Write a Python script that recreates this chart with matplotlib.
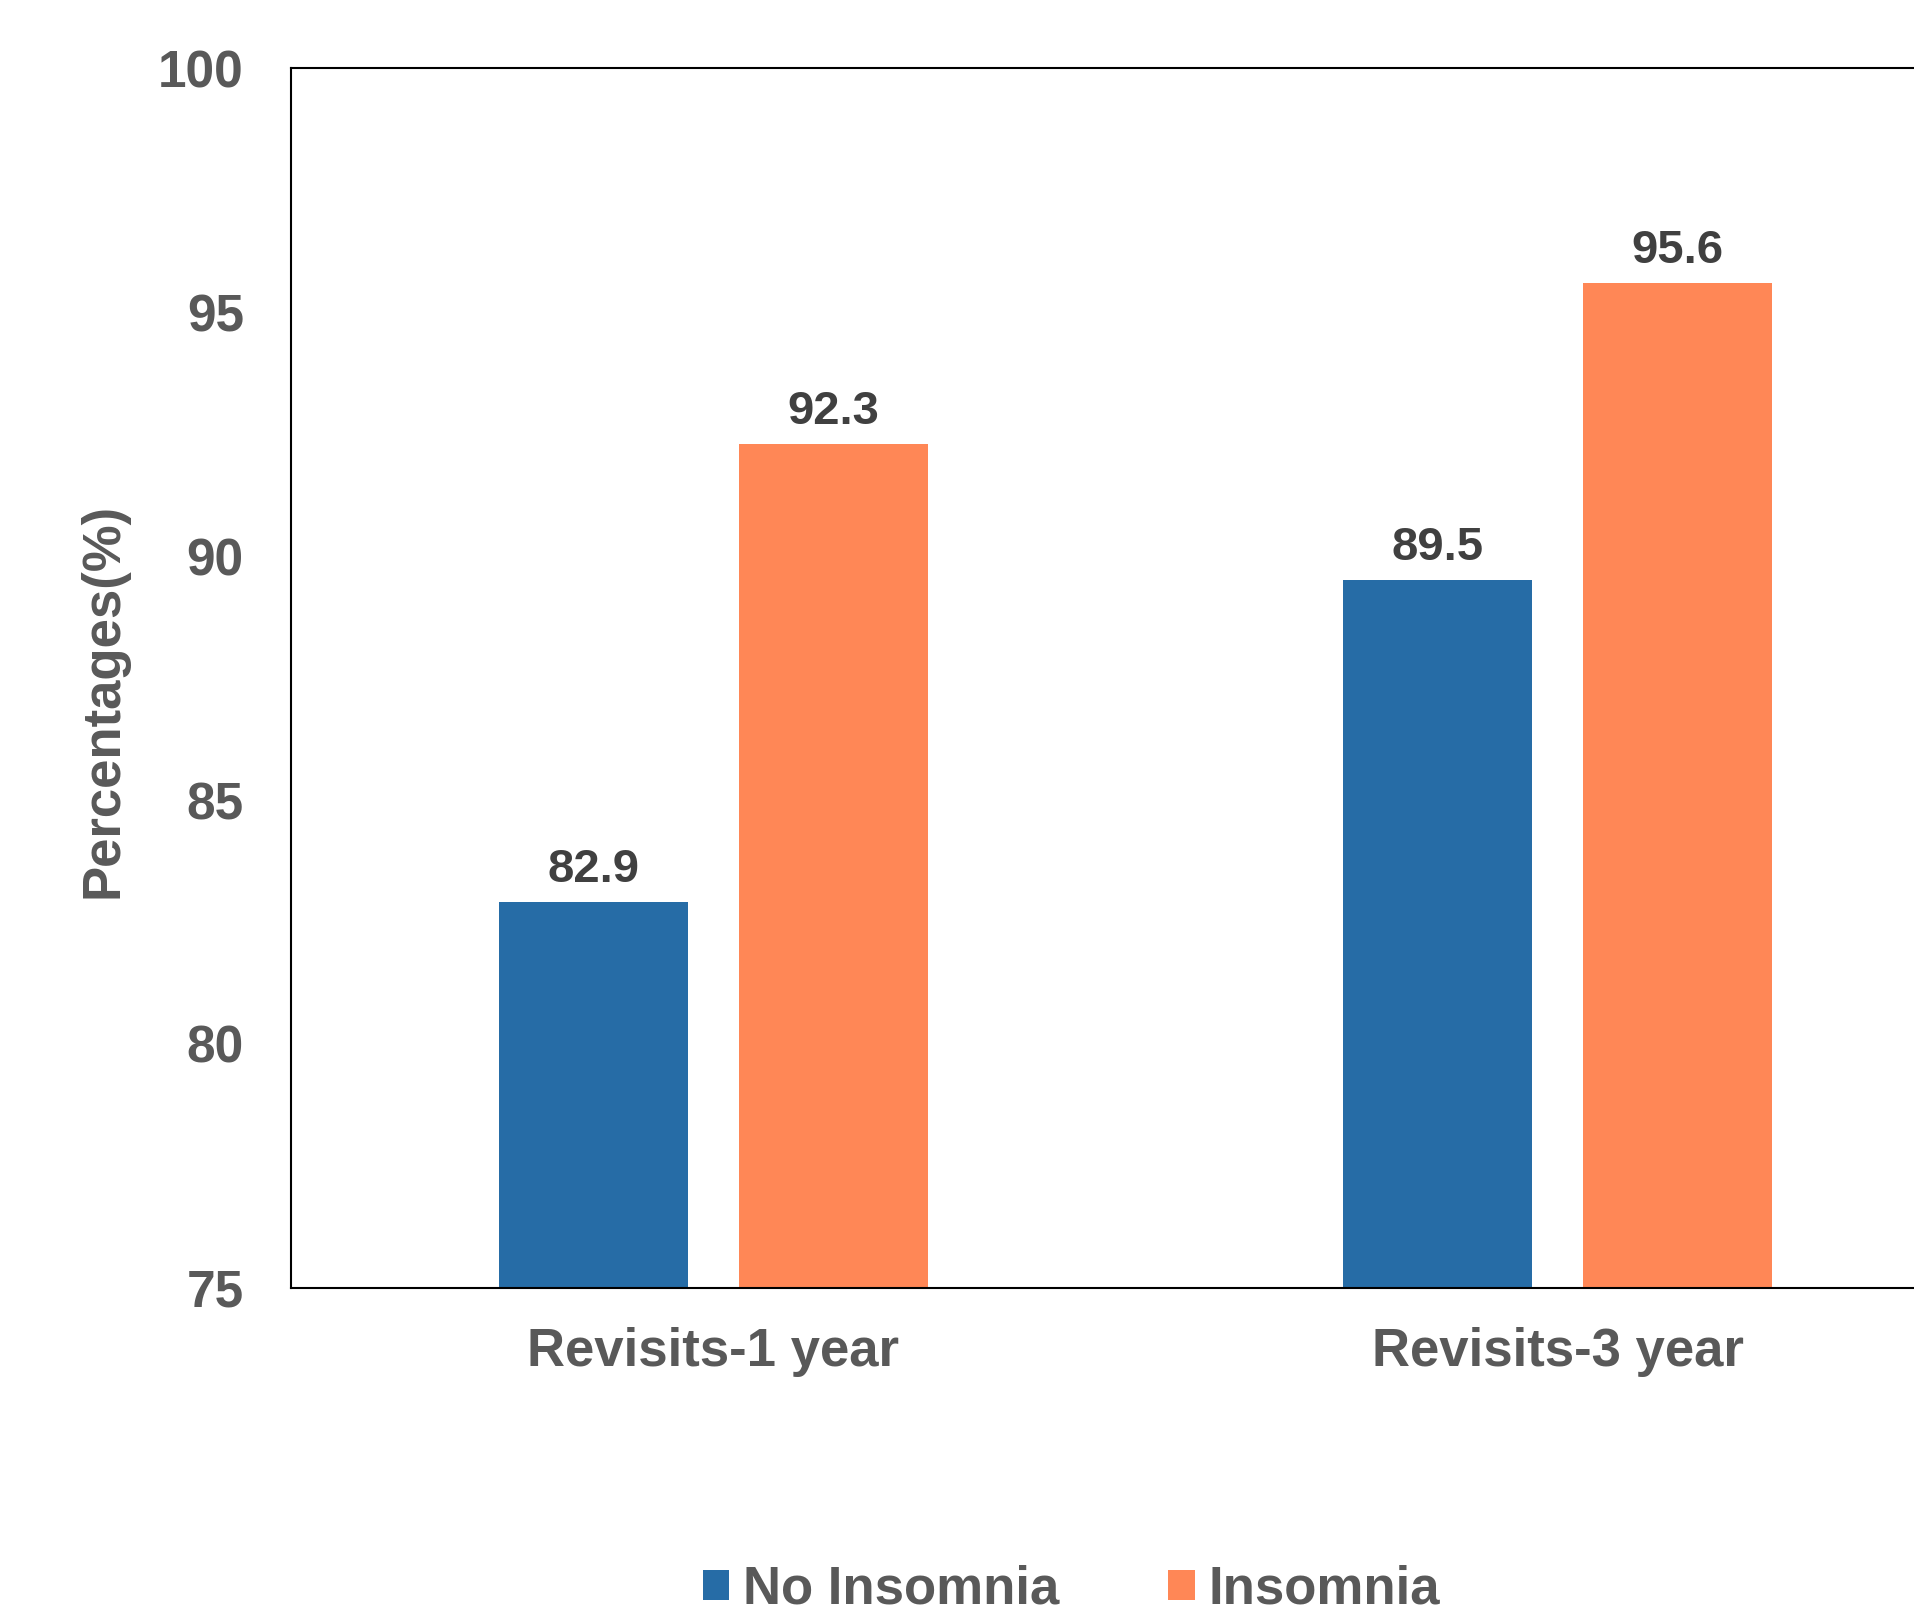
import numpy as np
import matplotlib
matplotlib.use("Agg")
import matplotlib.pyplot as plt

plt.rcParams['font.family'] = ['Liberation Sans', 'DejaVu Sans']
plt.rcParams['font.weight'] = 'bold'

categories = ['Revisits-1 year', 'Revisits-3 year']
series_names = ['No Insomnia', 'Insomnia']
no_insomnia = [82.9, 89.5]
insomnia = [92.3, 95.6]
yticks = [75, 80, 85, 90, 95, 100]

blue = '#266CA6'
orange = '#FF8756'
grey = '#595959'

W, H = 1914, 1612
fig = plt.figure(figsize=(W / 100, H / 100), dpi=100)
ax = fig.add_axes([291 / W, (H - 1288) / H, 1689 / W, 1220 / H])

x = np.arange(len(categories))
bw = 0.224
off = 0.142
b1 = ax.bar(x - off, no_insomnia, bw, color=blue, label=series_names[0], zorder=2)
b2 = ax.bar(x + off, insomnia, bw, color=orange, label=series_names[1], zorder=2)

# value labels above bars
for bars, vals in ((b1, no_insomnia), (b2, insomnia)):
    for r, v in zip(bars, vals):
        ax.annotate(f'{v}', (r.get_x() + r.get_width() / 2, v), xytext=(0, 14.4),
                    textcoords='offset points', ha='center', va='baseline',
                    fontsize=34, fontweight='bold', color='#404040')

ax.set_xlim(-0.5, 1.5)
ax.set_ylim(75, 100)
ax.set_yticks(yticks)
ax.set_yticklabels([str(t) for t in yticks])
ax.set_xticks(x)
ax.set_xticklabels(categories)
ax.tick_params(axis='y', length=0, pad=34, labelsize=37, labelcolor=grey)
ax.tick_params(axis='x', length=0, pad=28, labelsize=38, labelcolor=grey)
for s in ax.spines.values():
    s.set_linewidth(1.5)
    s.set_color('black')

ax.set_ylabel('Percentages(%)', fontsize=38, fontweight='bold', color=grey)
ax.yaxis.set_label_coords(-0.096, 0.482)

fig.legend(handles=[b1, b2], labels=series_names, loc='center',
           bbox_to_anchor=(1071.5 / W, 22.5 / H), ncol=2, frameon=False,
           fontsize=38, handlelength=0.5, handleheight=0.5, handletextpad=0.27,
           columnspacing=2.06, borderpad=0, labelcolor=grey)

fig.savefig('out.png', dpi=100)
